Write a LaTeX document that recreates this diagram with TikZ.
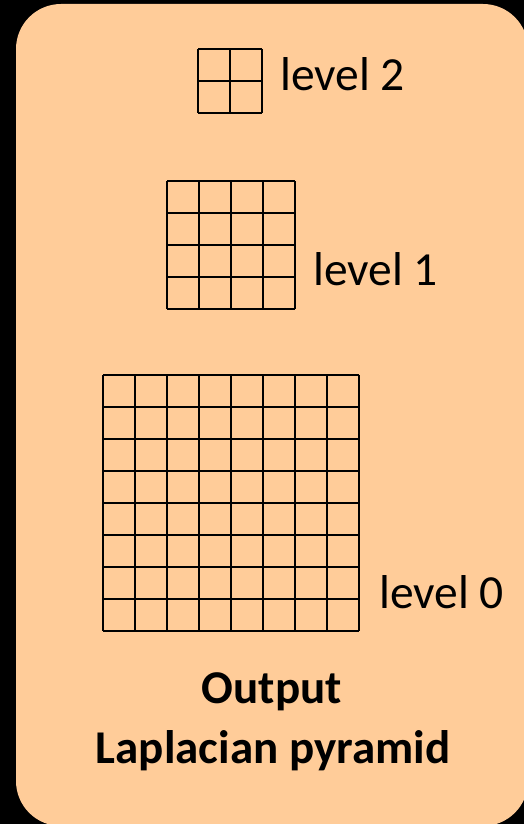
\documentclass[tikz,border=0pt]{standalone}
\usepackage{fontspec}
\setmainfont{Carlito}
\definecolor{panel}{HTML}{FFCC99}
\begin{document}
\begin{tikzpicture}[x=1pt,y=-1pt,
  gridline/.style={line width=1.6pt, draw=black},
  lbl/.style={anchor=base west, inner sep=0pt, font=\fontsize{47.5}{55}\selectfont},
  ttl/.style={anchor=base, inner sep=0pt, font=\fontsize{47}{60}\selectfont\bfseries}]
\useasboundingbox (0,0) rectangle (524,824);
\fill[black] (0,0) rectangle (524,824);
\fill[panel, rounded corners=45pt] (16,4) rectangle (528,826);
% level 2 grid (2x2)
\foreach \i in {0,...,2} {
  \draw[gridline] (198+32*\i,49) -- (198+32*\i,113);
  \draw[gridline] (198,49+32*\i) -- (262,49+32*\i);
}
% level 1 grid (4x4)
\foreach \i in {0,...,4} {
  \draw[gridline] (167+32*\i,181) -- (167+32*\i,309);
  \draw[gridline] (167,181+32*\i) -- (295,181+32*\i);
}
% level 0 grid (8x8)
\foreach \i in {0,...,8} {
  \draw[gridline] (103+32*\i,375) -- (103+32*\i,631);
  \draw[gridline] (103,375+32*\i) -- (359,375+32*\i);
}
\node[lbl] (l2) at (280,91) {level 2};
\node[lbl] (l1) at (313,285) {level 1};
\node[lbl] (l0) at (379,608) {level 0};
\node[ttl] (t1) at (272,703) {Output};
\node[ttl] (t2) at (273,763) {Laplacian pyramid};
\end{tikzpicture}
\end{document}
